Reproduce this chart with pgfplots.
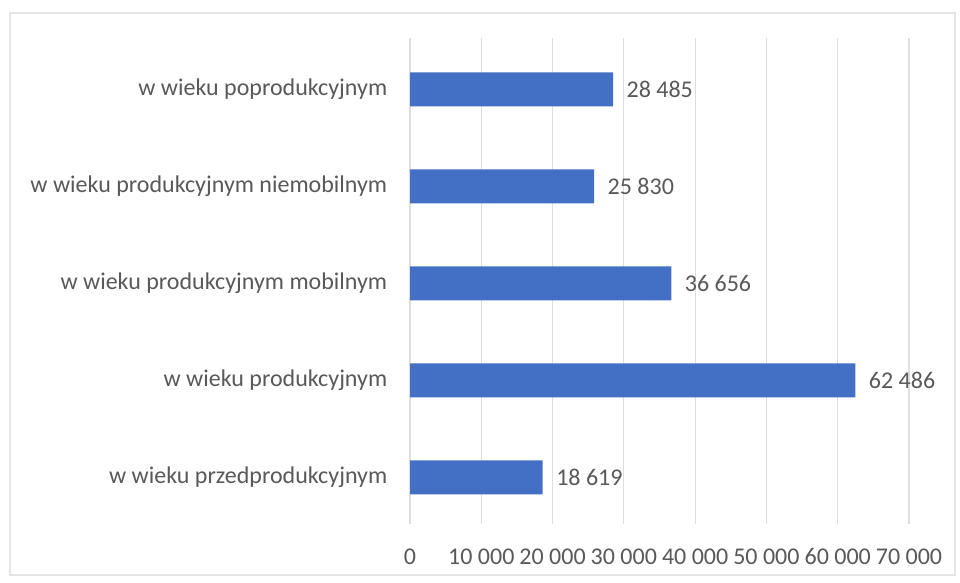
\documentclass[border=0pt]{standalone}
\usepackage{pgfplots}
\pgfplotsset{compat=1.18}
\usepackage{fontspec}
\setmainfont{Carlito}
\definecolor{barblue}{HTML}{4370C4}
\definecolor{txt}{HTML}{595959}
\definecolor{gridc}{HTML}{DEDEDE}
\begin{document}
\begin{tikzpicture}[x=1pt,y=1pt]
\path[use as bounding box] (0,0) rectangle (960,582);
\fill[white] (0,0) rectangle (960,582);
\draw[color=black!10, line width=1.5pt] (10,7) rectangle (955,569);
\begin{axis}[
  at={(410pt,58pt)}, anchor=south west,
  scale only axis, width=499pt, height=486pt,
  xmin=0, xmax=70000, ymin=-0.48, ymax=4.53,
  xbar, bar width=34pt,
  axis line style={draw=none},
  xmajorgrids, grid style={color=gridc, line width=1.2pt},
  xtick={0,10000,20000,30000,40000,50000,60000,70000},
  xticklabels={0,10 000,20 000,30 000,40 000,50 000,60 000,70 000},
  tick style={draw=none},
  ytick={0,1,2,3,4},
  yticklabels={w wieku przedprodukcyjnym, w wieku produkcyjnym, w wieku produkcyjnym mobilnym, w wieku produkcyjnym niemobilnym, w wieku poprodukcyjnym},
  ticklabel style={font=\fontsize{24}{28}\selectfont, color=txt},
  xticklabel style={yshift=-21pt},
  yticklabel style={xshift=-15pt},
  nodes near coords, point meta=explicit symbolic,
  nodes near coords style={font=\fontsize{24}{28}\selectfont, color=txt, anchor=west, xshift=10pt},
  clip=false,
]
\addplot[fill=barblue, draw=none] coordinates {(18619,0) [18 619] (62486,1) [62 486] (36656,2) [36 656] (25830,3) [25 830] (28485,4) [28 485]};
\end{axis}
\end{tikzpicture}
\end{document}
